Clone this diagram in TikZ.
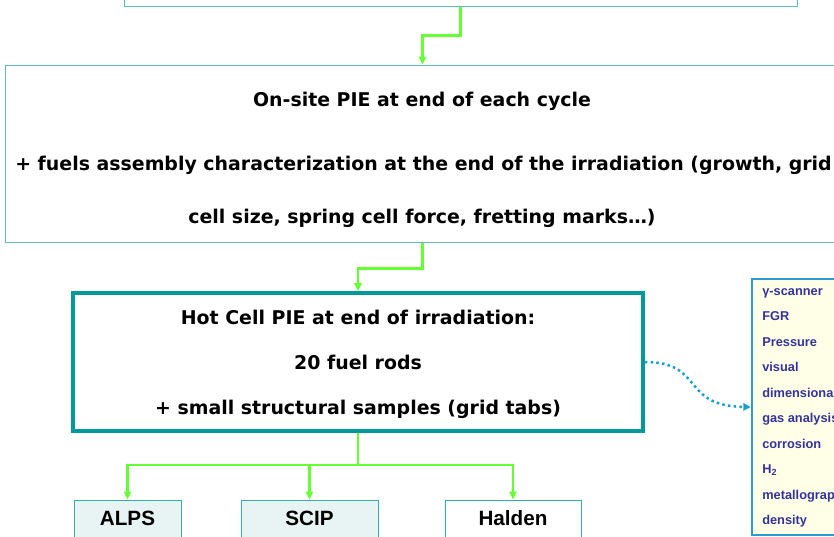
\documentclass[tikz,border=0pt]{standalone}
\usepackage{fontspec}
\setmainfont{DejaVu Sans}
\newfontfamily\arialb{Liberation Sans}[BoldFont={* Bold}]
\usetikzlibrary{arrows.meta}
\definecolor{tealthin}{HTML}{5CBFBF}
\definecolor{tealthick}{HTML}{009999}
\definecolor{arrgreen}{HTML}{66FF33}
\definecolor{dotblue}{HTML}{1AA0D0}
\definecolor{sideblue}{HTML}{2B9BD0}
\definecolor{sidefill}{HTML}{FFFFE8}
\definecolor{navy}{HTML}{333399}
\definecolor{lightbox}{HTML}{E8F4F4}
\tikzset{
  thinbox/.style={draw=tealthin, line width=0.75pt, fill=white, rectangle, inner sep=0pt},
  hotbox/.style={draw=tealthick, line width=2.8pt, fill=white, rectangle, inner sep=0pt},
  smallbox/.style={draw=tealthick!80, line width=0.75pt, rectangle, inner sep=0pt,
     minimum height=27.75pt, font=\arialb\bfseries\fontsize{15.5}{17}\selectfont},
  sidebox/.style={draw=sideblue, line width=1.9pt, fill=sidefill, rectangle, inner sep=0pt},
  comic/.style={font=\bfseries\fontsize{14.2}{16}\selectfont, inner sep=0pt},
  garrow/.style={draw=arrgreen, line width=1.9pt, -{Triangle[width=5.5pt,length=6pt]}},
  gline/.style={draw=arrgreen, line width=1.9pt},
  dotarrow/.style={draw=dotblue, line width=1.9pt, dash pattern=on 1.9pt off 2.4pt, -{Triangle[width=5.5pt,length=5.5pt]}},
}
\begin{document}
\begin{tikzpicture}[x=0.75pt, y=-0.75pt]
\useasboundingbox (0,0) rectangle (834,536);
\clip (0,0) rectangle (834,536);
% boxes
\node[thinbox, minimum width=504.75pt, minimum height=34.5pt] (top) at (460.5,-17) {};
\node[thinbox, minimum width=626.25pt, minimum height=132.75pt] (mid) at (422.5,153.5) {};
\node[hotbox, minimum width=427.5pt, minimum height=103.5pt] (hot) at (358,362) {};
\node[smallbox, fill=lightbox, minimum width=80.25pt] (alps) at (127.5,518.5) {ALPS};
\node[smallbox, fill=lightbox, minimum width=102.75pt] (scip) at (309.5,518.5) {SCIP};
\node[smallbox, fill=white, minimum width=102pt] (halden) at (513,518.5) {Halden};
\node[sidebox, minimum width=81pt, minimum height=192pt] (side) at (806,407) {};
% texts
\node[comic] (m1) at (422,101) {On-site PIE at end of each cycle};
\node[comic] (m2) at (423.5,165) {+ fuels assembly characterization at the end of the irradiation (growth, grid};
\node[comic] (m3) at (422,218) {cell size, spring cell force, fretting marks…)};
\node[comic] (h1) at (358,317) {Hot Cell PIE at end of irradiation:};
\node[comic] (h2) at (358,362) {20 fuel rods};
\node[comic] (h3) at (358,409) {+ small structural samples (grid tabs)};
\node[anchor=west, align=left, inner sep=0pt, text=navy,
      font=\arialb\bfseries\fontsize{9.6}{19.1}\selectfont] (sidetext) at (762,408)
  {γ-scanner\\FGR\\Pressure\\visual\\dimensional\\gas analysis\\corrosion\\H\textsubscript{2}\\metallography\\density};
% connectors
\draw[garrow] (top.south) -- ++(0,29) -| (mid.north);
\draw[garrow] (mid.south) -- ++(0,26) -| (hot.north);
\draw[gline] (hot.south) -- ++(0,32) coordinate (j);
\draw[garrow] (j) -| (alps.north);
\draw[garrow] (j) -| (scip.north);
\draw[garrow] (j) -| (halden.north);
\draw[dotarrow] (hot.east) .. controls (705,362) and (680,406) .. (side.west);
\end{tikzpicture}
\end{document}
